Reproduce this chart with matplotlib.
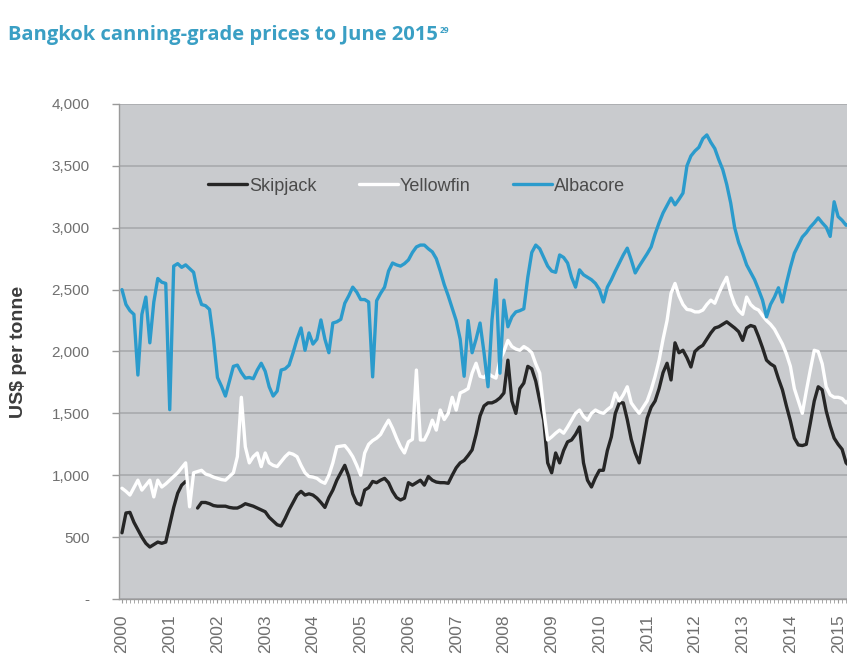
import numpy as np
import matplotlib
matplotlib.use("Agg")
import matplotlib.pyplot as plt
from matplotlib.ticker import FixedLocator, MultipleLocator, FuncFormatter

# Monthly Bangkok canning-grade prices, Jan 2000 - Jun 2015 (US$ per tonne)
years = [str(y) for y in range(2000, 2016)]

skipjack = [
    535, 695, 700, 620, 560, 500, 450, 420, 440, 460, 450, 460,            # 2000
    600, 740, 855, 920, 950, np.nan, np.nan, 735, 780, 780, 770, 755,      # 2001
    750, 750, 750, 740, 735, 735, 750, 770, 760, 750, 735, 720,            # 2002
    705, 660, 630, 600, 590, 650, 720, 780, 840, 870, 840, 850,            # 2003
    840, 815, 780, 740, 820, 880, 960, 1020, 1080, 990, 850, 775,          # 2004
    760, 880, 900, 950, 940, 960, 975, 940, 870, 820, 800, 815,            # 2005
    940, 920, 940, 960, 920, 990, 960, 945, 940, 940, 935, 1000,           # 2006
    1060, 1100, 1120, 1160, 1205, 1330, 1480, 1560, 1585, 1585, 1600, 1625,  # 2007
    1665, 1930, 1600, 1500, 1700, 1745, 1880, 1860, 1760, 1600, 1445, 1100,  # 2008
    1020, 1180, 1100, 1200, 1270, 1285, 1330, 1390, 1100, 960, 905, 980,   # 2009
    1040, 1040, 1200, 1310, 1500, 1585, 1585, 1450, 1290, 1180, 1100, 1280,  # 2010
    1460, 1550, 1600, 1700, 1830, 1905, 1770, 2070, 1990, 2010, 1950, 1875,  # 2011
    2000, 2030, 2050, 2100, 2150, 2190, 2200, 2220, 2240, 2215, 2190, 2160,  # 2012
    2090, 2190, 2210, 2200, 2120, 2030, 1930, 1900, 1880, 1780, 1690, 1560,  # 2013
    1440, 1300, 1245, 1240, 1250, 1420, 1600, 1715, 1690, 1520, 1400, 1300,  # 2014
    1250, 1210, 1100, 1070, 1050, 1040,                                      # 2015
]

yellowfin = [
    895, 870, 840, 900, 960, 880, 920, 960, 825, 960, 905, 930,
    960, 990, 1020, 1060, 1100, 745, 1020, 1030, 1040, 1010, 1000, 985,
    975, 965, 960, 990, 1020, 1150, 1630, 1230, 1100, 1150, 1180, 1070,
    1180, 1100, 1080, 1070, 1110, 1150, 1180, 1170, 1150, 1080, 1020, 990,
    985, 975, 950, 935, 1000, 1100, 1230, 1235, 1240, 1200, 1150, 1080,
    1000, 1180, 1250, 1280, 1300, 1330, 1390, 1445, 1380, 1300, 1230, 1180,
    1270, 1290, 1850, 1285, 1285, 1350, 1445, 1365, 1527, 1450, 1500, 1630,
    1527, 1665, 1680, 1700, 1825, 1905, 1800, 1790, 1825, 1800, 1785, 1930,
    2000, 2090, 2040, 2020, 2010, 2040, 2020, 1990, 1900, 1825, 1527, 1285,
    1310, 1340, 1365, 1340, 1390, 1445, 1500, 1527, 1475, 1445, 1500, 1527,
    1510, 1500, 1530, 1555, 1665, 1600, 1650, 1715, 1585, 1540, 1500, 1550,
    1600, 1690, 1800, 1930, 2100, 2250, 2470, 2550, 2450, 2380, 2340, 2335,
    2320, 2320, 2335, 2380, 2415, 2390, 2470, 2540, 2600, 2470, 2380, 2330,
    2300, 2440, 2380, 2350, 2335, 2290, 2250, 2220, 2180, 2120, 2060, 1980,
    1880, 1700, 1600, 1500, 1680, 1850, 2010, 2000, 1900, 1715, 1650, 1630,
    1630, 1620, 1585, 1620, 1640, 1650,
]

albacore = [
    2500, 2380, 2330, 2300, 1810, 2300, 2440, 2070, 2400, 2590, 2560, 2550,
    1530, 2690, 2710, 2680, 2700, 2670, 2640, 2480, 2380, 2370, 2340, 2100,
    1790, 1720, 1640, 1760, 1880, 1890, 1830, 1785, 1790, 1780, 1850, 1905,
    1840, 1715, 1640, 1680, 1850, 1860, 1890, 1990, 2100, 2190, 2010, 2150,
    2060, 2100, 2255, 2100, 1990, 2230, 2240, 2260, 2390, 2450, 2520, 2480,
    2420, 2420, 2400, 1795, 2410, 2470, 2520, 2650, 2715, 2700, 2690, 2710,
    2740, 2800, 2845, 2860, 2860, 2830, 2805, 2750, 2650, 2540, 2450, 2350,
    2250, 2100, 1800, 2250, 1990, 2100, 2230, 1990, 1715, 2255, 2580, 1825,
    2415, 2200, 2280, 2320, 2330, 2345, 2600, 2800, 2860, 2830, 2760, 2690,
    2650, 2640, 2780, 2760, 2715, 2600, 2520, 2660, 2620, 2600, 2580, 2550,
    2500, 2400, 2520, 2580, 2650, 2715, 2780, 2835, 2740, 2635, 2690, 2740,
    2790, 2845, 2950, 3040, 3120, 3180, 3240, 3185, 3230, 3280, 3500, 3580,
    3620, 3650, 3720, 3750, 3690, 3640, 3550, 3470, 3350, 3200, 3000, 2880,
    2795, 2700, 2640, 2580, 2500, 2415, 2280, 2380, 2440, 2515, 2400, 2550,
    2680, 2795, 2860, 2925, 2960, 3005, 3040, 3080, 3040, 3005, 2930, 3210,
    3090, 3060, 3020, 3030, 3010, 3000,
]

series_names = ["Skipjack", "Yellowfin", "Albacore"]
series_colors = ["#262626", "#ffffff", "#2b9bcc"]

months = np.arange(len(albacore))

W, H = 847, 662
fig = plt.figure(figsize=(W / 100, H / 100), dpi=100)
fig.patch.set_facecolor("white")

# plot area runs past the right edge of the canvas
ax = fig.add_axes([119 / W, 63 / H, 743 / W, 495 / H])
ax.set_facecolor("#c9cbce")

for vals, name, col in zip([skipjack, yellowfin, albacore], series_names, series_colors):
    ax.plot(months, vals, color=col, lw=2.4, label=name,
            solid_joinstyle="round", solid_capstyle="round", zorder=3)

ax.set_xlim(-0.75, 186)
ax.set_ylim(0, 4000)

# horizontal gridlines
ax.yaxis.set_major_locator(MultipleLocator(500))
ax.yaxis.set_major_formatter(FuncFormatter(lambda v, p: "-" if v == 0 else f"{int(v):,}"))
ax.grid(axis="y", color="#a8aaad", lw=1.2, zorder=1)
ax.set_axisbelow(True)

# year labels every 12 months, month ticks underneath
ax.xaxis.set_major_locator(FixedLocator(np.arange(0, len(albacore), 12)))
ax.set_xticklabels(years, rotation=90)
ax.xaxis.set_minor_locator(MultipleLocator(1))

for side in ["top", "right"]:
    ax.spines[side].set_visible(False)
for side in ["left", "bottom"]:
    ax.spines[side].set_color("#9a9a9a")
    ax.spines[side].set_linewidth(1.0)

ax.tick_params(axis="y", direction="out", length=5, width=1, color="#9a9a9a",
               labelcolor="#707070", labelsize=11, pad=16)
ax.tick_params(axis="x", which="major", direction="out", length=3, width=0.8,
               color="#9a9a9a", labelcolor="#707070", labelsize=12.5, pad=8)
ax.tick_params(axis="x", which="minor", direction="out", length=3, width=0.6,
               color="#9a9a9a")
for lab in ax.get_xticklabels() + ax.get_yticklabels():
    lab.set_family(["Liberation Sans", "DejaVu Sans"])

ax.set_ylabel("US$ per tonne", fontsize=14, fontweight="bold", color="#3c3c3c",
              family=["Liberation Sans", "DejaVu Sans"])
ax.yaxis.set_label_coords(-0.124, 0.50)

leg = ax.legend(loc="center left", bbox_to_anchor=(0.110, 0.834), ncol=3,
                frameon=False, handlelength=2.15, handletextpad=0.12,
                columnspacing=2.35, borderaxespad=0,
                prop={"family": ["Liberation Sans", "DejaVu Sans"], "size": 13})
for t in leg.get_texts():
    t.set_color("#4a4a4a")

title = fig.text(8 / W, 1 - 40 / H, "Bangkok canning-grade prices to June 2015",
                 fontsize=14.5, fontweight="bold", color="#3a9fc4",
                 family=["Open Sans", "DejaVu Sans"], ha="left", va="baseline")
fig.canvas.draw()
ax.annotate("29", xy=(1, 0.95), xycoords=title, xytext=(1.5, 0),
            textcoords="offset points", ha="left", va="top", fontsize=6,
            fontweight="bold", color="#3a9fc4", family=["Open Sans", "DejaVu Sans"],
            annotation_clip=False)

fig.savefig("out.png", dpi=100)
